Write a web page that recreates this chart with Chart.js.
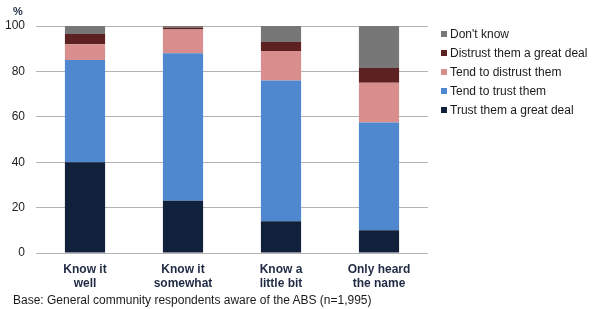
<!DOCTYPE html>
<html>
<head>
<meta charset="utf-8">
<script src="https://cdn.jsdelivr.net/npm/chart.js@4"></script>
<style>
  html, body { margin: 0; padding: 0; background: #fff; }
  #wrap { position: relative; width: 592px; height: 309px; font-family: "Liberation Sans", Arial, sans-serif; }
  canvas { position: absolute; left: 0; top: 0; }
  #pct { position: absolute; left: 13px; top: 5px; font-size: 11px; font-weight: bold; color: #1f2a44; }
  #note { position: absolute; left: 13px; top: 293px; font-size: 12px; color: #1a1a1a; white-space: nowrap; }
  #legend { position: absolute; left: 441px; top: 25.5px; font-size: 12px; color: #1a1a1a; }
  #legend div { height: 19.2px; line-height: 17px; white-space: nowrap; }
  #legend span.sw { display: inline-block; width: 6px; height: 6px; margin-right: 3px; vertical-align: 1px; }
</style>
</head>
<body>
<div id="wrap">
  <canvas id="c" width="592" height="309"></canvas>
  <div id="pct">%</div>
  <div id="legend"></div>
  <div id="note">Base: General community respondents aware of the ABS (n=1,995)</div>
</div>
<script>
const categories = [["Know it", "well"], ["Know it", "somewhat"], ["Know a", "little bit"], ["Only heard", "the name"]];
const seriesNames = ["Trust them a great deal", "Tend to trust them", "Tend to distrust them", "Distrust them a great deal", "Don't know"];
const trustGreatDeal = [40, 23, 14, 10];
const tendToTrust = [45, 65, 62, 47.5];
const tendToDistrust = [7, 10.5, 13, 17.5];
const distrustGreatDeal = [4.5, 0.8, 4, 6.5];
const dontKnow = [3.5, 0.7, 7, 18.5];
const yTicks = [0, 20, 40, 60, 80, 100];
const colors = ["#12213b", "#4f88cf", "#d98e8e", "#5e2121", "#777777"];

const seriesData = [trustGreatDeal, tendToTrust, tendToDistrust, distrustGreatDeal, dontKnow];

const legend = document.getElementById('legend');
for (let i = seriesNames.length - 1; i >= 0; i--) {
  const d = document.createElement('div');
  const sw = document.createElement('span');
  sw.className = 'sw';
  sw.style.background = colors[i];
  d.appendChild(sw);
  d.appendChild(document.createTextNode(seriesNames[i]));
  legend.appendChild(d);
}

new Chart(document.getElementById('c'), {
  type: 'bar',
  data: {
    labels: categories,
    datasets: seriesData.map((arr, i) => ({
      label: seriesNames[i],
      data: arr,
      backgroundColor: colors[i],
      borderWidth: 0,
      barPercentage: 0.41,
      categoryPercentage: 1.0
    }))
  },
  options: {
    responsive: false,
    animation: false,
    layout: { padding: { left: 0, right: 164, top: 26, bottom: 0 } },
    plugins: { legend: { display: false }, tooltip: { enabled: false } },
    scales: {
      x: {
        stacked: true,
        grid: { display: false, drawTicks: false },
        border: { display: false },
        ticks: {
          font: { family: "Liberation Sans", size: 12, weight: 'bold', lineHeight: 1.17 },
          color: '#1f2a44',
          padding: 10,
          maxRotation: 0,
          autoSkip: false
        },
        afterFit: (s) => { s.height = 56; }
      },
      y: {
        stacked: true,
        min: 0, max: 100,
        afterBuildTicks: (s) => { s.ticks = yTicks.map(v => ({ value: v })); },
        grid: { color: '#b3b3b3', lineWidth: 1, drawTicks: false },
        border: { display: false },
        ticks: {
          font: { family: "Liberation Sans", size: 12 },
          color: '#222',
          padding: 11
        },
        afterFit: (s) => { s.width = 36; }
      }
    }
  }
});
</script>
</body>
</html>
